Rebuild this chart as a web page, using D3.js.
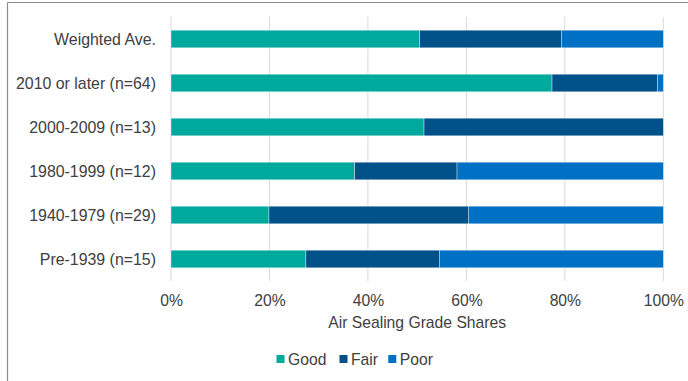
<!DOCTYPE html>
<html>
<head>
<meta charset="utf-8">
<script src="https://cdn.jsdelivr.net/npm/d3@7"></script>
<style>
  html, body { margin: 0; padding: 0; background: #fff; }
  svg { display: block; font-family: "Liberation Sans", Arial, sans-serif; }
</style>
</head>
<body>
<svg id="chart" width="688" height="381"></svg>
<script>
// Shares of air sealing grades by construction era (fractions of 100%)
const categories = [
  "Weighted Ave.",
  "2010 or later (n=64)",
  "2000-2009 (n=13)",
  "1980-1999 (n=12)",
  "1940-1979 (n=29)",
  "Pre-1939 (n=15)"
];
const goodShare = [50.5, 77.4, 51.4, 37.3, 19.9, 27.4];
const fairShare = [28.8, 21.4, 48.6, 20.8, 40.5, 27.1];
const poorShare = [20.7, 1.2, 0.0, 41.9, 39.6, 45.5];
const seriesNames = ["Good", "Fair", "Poor"];
const seriesColors = ["#00a99e", "#00508a", "#0070c4"];
const xTicks = [0, 20, 40, 60, 80, 100];
const xTitle = "Air Sealing Grade Shares";

const svg = d3.select("#chart");
const textColor = "#404040";
const fontSize = 15.7;

// outer frame (top and left edges visible)
svg.append("line").attr("x1", 7.5).attr("x2", 688).attr("y1", 2.5).attr("y2", 2.5)
  .attr("stroke", "#8c8c8c").attr("stroke-width", 1.2);
svg.append("line").attr("x1", 7.5).attr("x2", 7.5).attr("y1", 2.5).attr("y2", 381)
  .attr("stroke", "#8c8c8c").attr("stroke-width", 1.2);

const x = d3.scaleLinear().domain([0, 100]).range([171, 663.3]);
const y = d3.scaleBand().domain(categories).range([17, 281])
  .paddingInner(0.6).paddingOuter(0.3);

// vertical gridlines
svg.append("g").selectAll("line").data(xTicks).join("line")
  .attr("x1", d => x(d)).attr("x2", d => x(d))
  .attr("y1", 17).attr("y2", 281)
  .attr("stroke", "#d9d9d9").attr("stroke-width", 1);

// stacked data
const rows = categories.map((c, i) => ({
  cat: c, Good: goodShare[i], Fair: fairShare[i], Poor: poorShare[i]
}));
const stacked = d3.stack().keys(seriesNames)(rows);

svg.append("g").selectAll("g").data(stacked).join("g")
  .attr("fill", (d, i) => seriesColors[i])
  .selectAll("rect").data(d => d).join("rect")
  .attr("x", d => x(d[0]))
  .attr("y", d => y(d.data.cat))
  .attr("width", d => Math.max(0, x(d[1]) - x(d[0])))
  .attr("height", y.bandwidth())
  .attr("stroke", "#ffffff").attr("stroke-opacity", 0.6).attr("stroke-width", 0.6);

// category labels
svg.append("g").selectAll("text").data(categories).join("text")
  .attr("x", 156)
  .attr("y", d => y(d) + y.bandwidth() / 2)
  .attr("dy", "0.36em")
  .attr("text-anchor", "end")
  .attr("font-size", 15.9)
  .attr("fill", textColor)
  .text(d => d);

// x axis tick labels
const xAxis = d3.axisBottom(x).tickValues(xTicks).tickFormat(d => d + "%").tickSize(0).tickPadding(0);
const gx = svg.append("g").attr("transform", "translate(0,306)").call(xAxis);
gx.select(".domain").remove();
gx.selectAll("text")
  .attr("dy", 0).attr("y", 0)
  .attr("font-size", fontSize)
  .attr("font-family", "Liberation Sans, Arial, sans-serif")
  .attr("fill", textColor);

// x axis title
svg.append("text")
  .attr("x", (x(0) + x(100)) / 2).attr("y", 328)
  .attr("text-anchor", "middle")
  .attr("font-size", fontSize)
  .attr("fill", textColor)
  .text(xTitle);

// legend
const legendX = [276.5, 339.5, 388.3];
const legend = svg.append("g").selectAll("g").data(seriesNames).join("g")
  .attr("transform", (d, i) => `translate(${legendX[i]},0)`);
legend.append("rect")
  .attr("x", 0).attr("y", 355).attr("width", 8).attr("height", 8)
  .attr("fill", (d, i) => seriesColors[i]);
legend.append("text")
  .attr("x", 11.5).attr("y", 365)
  .attr("font-size", fontSize)
  .attr("fill", textColor)
  .text(d => d);
</script>
</body>
</html>
